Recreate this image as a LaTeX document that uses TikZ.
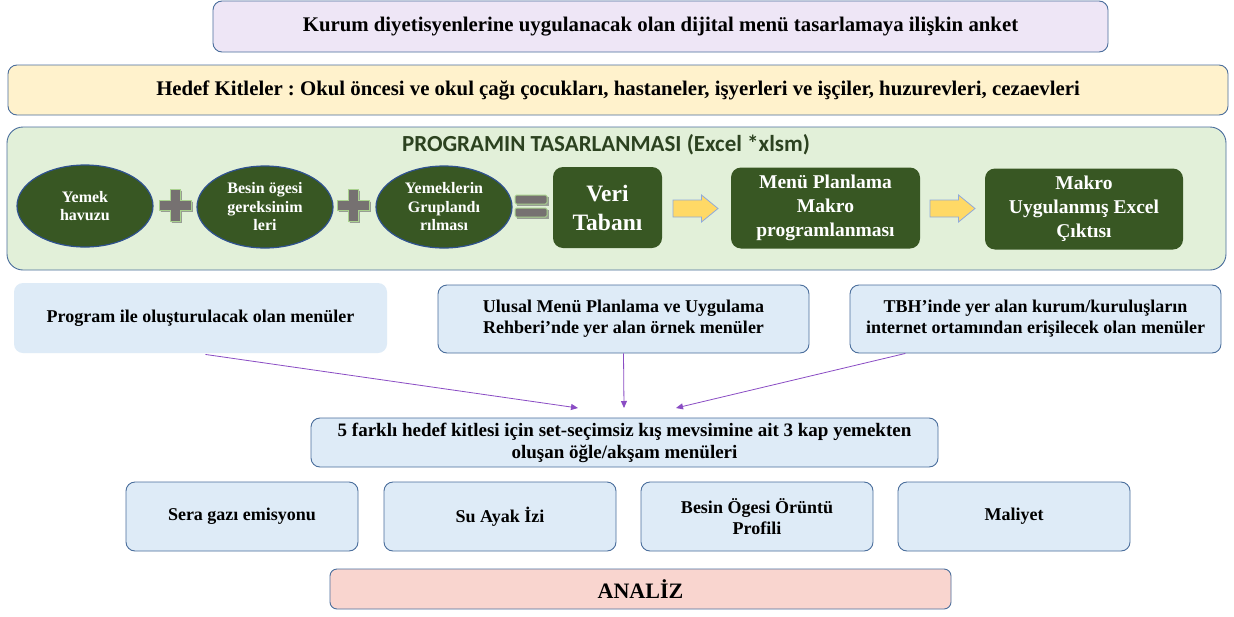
\documentclass[tikz,border=0pt]{standalone}
\usepackage{fontspec}
\setmainfont{Liberation Serif}
\newfontfamily\titlefont{Carlito}
\usetikzlibrary{shapes.geometric,arrows.meta,calc}
\frenchspacing
\definecolor{dkgreen}{HTML}{385723}
\definecolor{ltgreen}{HTML}{E2F0D9}
\definecolor{bordblue}{HTML}{4A6E9C}
\definecolor{ellbord}{HTML}{2F528F}
\definecolor{lavender}{HTML}{EEE6F6}
\definecolor{lyellow}{HTML}{FFF2CC}
\definecolor{lblue}{HTML}{DEEBF7}
\definecolor{lpink}{HTML}{F9D5CF}
\definecolor{arrowyellow}{HTML}{FFD966}
\definecolor{arrowbord}{HTML}{8FAADC}
\definecolor{conncol}{HTML}{8A4CC4}
\definecolor{titlecol}{HTML}{2C4220}
\definecolor{plusgray}{HTML}{767171}
\definecolor{plusedge}{HTML}{A9D18E}
\tikzset{
  box/.style={rectangle, rounded corners=9pt, draw=bordblue, line width=0.9pt, align=center, inner sep=0pt,
    font=\bfseries\fontsize{18}{21}\selectfont},
  ellnode/.style={ellipse, fill=dkgreen, draw=ellbord, line width=1.2pt, minimum width=136pt, minimum height=82pt,
    inner sep=0pt, align=center, text=white, font=\bfseries\fontsize{16}{18.5}\selectfont},
  greenbox/.style={rectangle, rounded corners=10pt, fill=dkgreen, draw=none, minimum height=81pt, inner sep=0pt,
    align=center, text=white},
  conn/.style={draw=conncol, line width=0.8pt, -{Triangle[length=7pt,width=6pt]}},
  yellowarrow/.pic={
    \draw[fill=arrowyellow, draw=arrowbord, line width=0.8pt] (-22.5,-8.5) -- (6,-8.5) -- (6,-13.5) -- (22.5,0) -- (6,13.5) -- (6,8.5) -- (-22.5,8.5) -- cycle;
  },
  plusmark/.pic={
    \fill[black!60, opacity=0.6, shift={(1.8,1.8)}] (-5,-16) -- (5,-16) -- (5,-5) -- (16,-5) -- (16,5) -- (5,5) -- (5,16) -- (-5,16) -- (-5,5) -- (-16,5) -- (-16,-5) -- (-5,-5) -- cycle;
    \draw[draw=plusedge, fill=plusgray, line width=1pt] (-5,-16) -- (5,-16) -- (5,-5) -- (16,-5) -- (16,5) -- (5,5) -- (5,16) -- (-5,16) -- (-5,5) -- (-16,5) -- (-16,-5) -- (-5,-5) -- cycle;
  },
  equalmark/.pic={
    \fill[black!60, opacity=0.6, shift={(1.8,1.8)}] (-16,-12) rectangle (16,-3);
    \fill[black!60, opacity=0.6, shift={(1.8,1.8)}] (-16,1) rectangle (16,10);
    \draw[draw=plusedge, fill=plusgray, line width=1pt, rounded corners=1.5pt] (-16,-12) rectangle (16,-3);
    \draw[draw=plusedge, fill=plusgray, line width=1pt, rounded corners=1.5pt] (-16,1) rectangle (16,10);
  }
}
\begin{document}
\begin{tikzpicture}[x=1pt,y=-1pt]
\useasboundingbox (0,0) rectangle (1234,616);
\fill[white] (0,0) rectangle (1234,616);

% top boxes
\node[box, fill=lavender, minimum width=895pt, minimum height=51pt, font=\bfseries\fontsize{20.8}{24}\selectfont] (top) at (660.5,26.5)
  {Kurum diyetisyenlerine uygulanacak olan dijital menü tasarlamaya ilişkin anket};
\node[box, fill=lyellow, minimum width=1220pt, minimum height=50pt, font=\bfseries\fontsize{20.8}{24}\selectfont] (hedef) at (618,90)
  {Hedef Kitleler : Okul öncesi ve okul çağı çocukları, hastaneler, işyerleri ve işçiler, huzurevleri, cezaevleri};

% program design panel
\node[box, fill=ltgreen, rounded corners=16pt, minimum width=1219pt, minimum height=143pt] (panel) at (616.5,198.5) {};
\node[font=\titlefont\bfseries\fontsize{23}{27}\selectfont, text=titlecol, inner sep=0pt] (title) at (606,145)
  {PROGRAMIN TASARLANMASI (Excel *xlsm)};

\node[ellnode] (e1) at (85,206) {Yemek\\havuzu};
\node[ellnode] (e2) at (265,207) {Besin ögesi\\gereksinim\\leri};
\node[ellnode] (e3) at (444,207) {Yemeklerin\\Gruplandı\\rılması};
\pic at (175,205) {plusmark};
\pic at (353,205) {plusmark};
\pic at (531,207) {equalmark};

\node[greenbox, minimum width=109pt, font=\bfseries\fontsize{23.5}{29}\selectfont] (veri) at (607.5,207.5) {Veri\\Tabanı};
\node[greenbox, minimum width=189pt, font=\bfseries\fontsize{19.5}{24}\selectfont] (menu) at (825.5,208) {Menü Planlama\\Makro\\programlanması};
\node[greenbox, minimum width=198pt, font=\bfseries\fontsize{19.5}{24}\selectfont] (makro) at (1084,209) {Makro\\Uygulanmış Excel\\Çıktısı};
\pic at (695.5,208.5) {yellowarrow};
\pic at (952.5,208.5) {yellowarrow};

% menu sources
\node[box, fill=lblue, draw=none, minimum width=373pt, minimum height=70pt] (srcA) at (200.5,318)
  {Program ile oluşturulacak olan menüler};
\node[box, fill=lblue, minimum width=371pt, minimum height=68pt] (srcB) at (623.5,319)
  {Ulusal Menü Planlama ve Uygulama\\Rehberi’nde yer alan örnek menüler};
\node[box, fill=lblue, minimum width=371pt, minimum height=68pt] (srcC) at (1035.5,319)
  {TBH’inde yer alan kurum/kuruluşların\\internet ortamından erişilecek olan menüler};

\node[box, fill=lblue, minimum width=627pt, minimum height=49pt, font=\bfseries\fontsize{19}{22}\selectfont] (menus) at (624.5,442.5)
  {5 farklı hedef kitlesi için set-seçimsiz kış mevsimine ait 3 kap yemekten\\oluşan öğle/akşam menüleri};

\coordinate (t1) at (578,408);
\coordinate (t2) at (624,408);
\coordinate (t3) at (676,408);
\draw[conn] ($(srcA.south)+(5,1)$) -- (t1);
\draw[conn] (srcB.south) -- (t2);
\draw[conn] ($(srcC.south west)!0.15!(srcC.south east)$) -- (t3);

% analysis boxes
\node[box, fill=lblue, minimum width=232pt, minimum height=69pt] (sera) at (242,516.5) {Sera gazı emisyonu};
\node[box, fill=lblue, minimum width=232pt, minimum height=69pt] (su) at (500,516.5) {Su Ayak İzi};
\node[box, fill=lblue, minimum width=232pt, minimum height=69pt] (besin) at (757,516.5) {Besin Ögesi Örüntü\\Profili};
\node[box, fill=lblue, minimum width=232pt, minimum height=69pt] (maliyet) at (1014,516.5) {Maliyet};

\node[box, fill=lpink, rounded corners=7pt, minimum width=621pt, minimum height=40pt, font=\bfseries\fontsize{22}{26}\selectfont] (analiz) at (640.5,589) {ANALİZ};
\end{tikzpicture}
\end{document}
